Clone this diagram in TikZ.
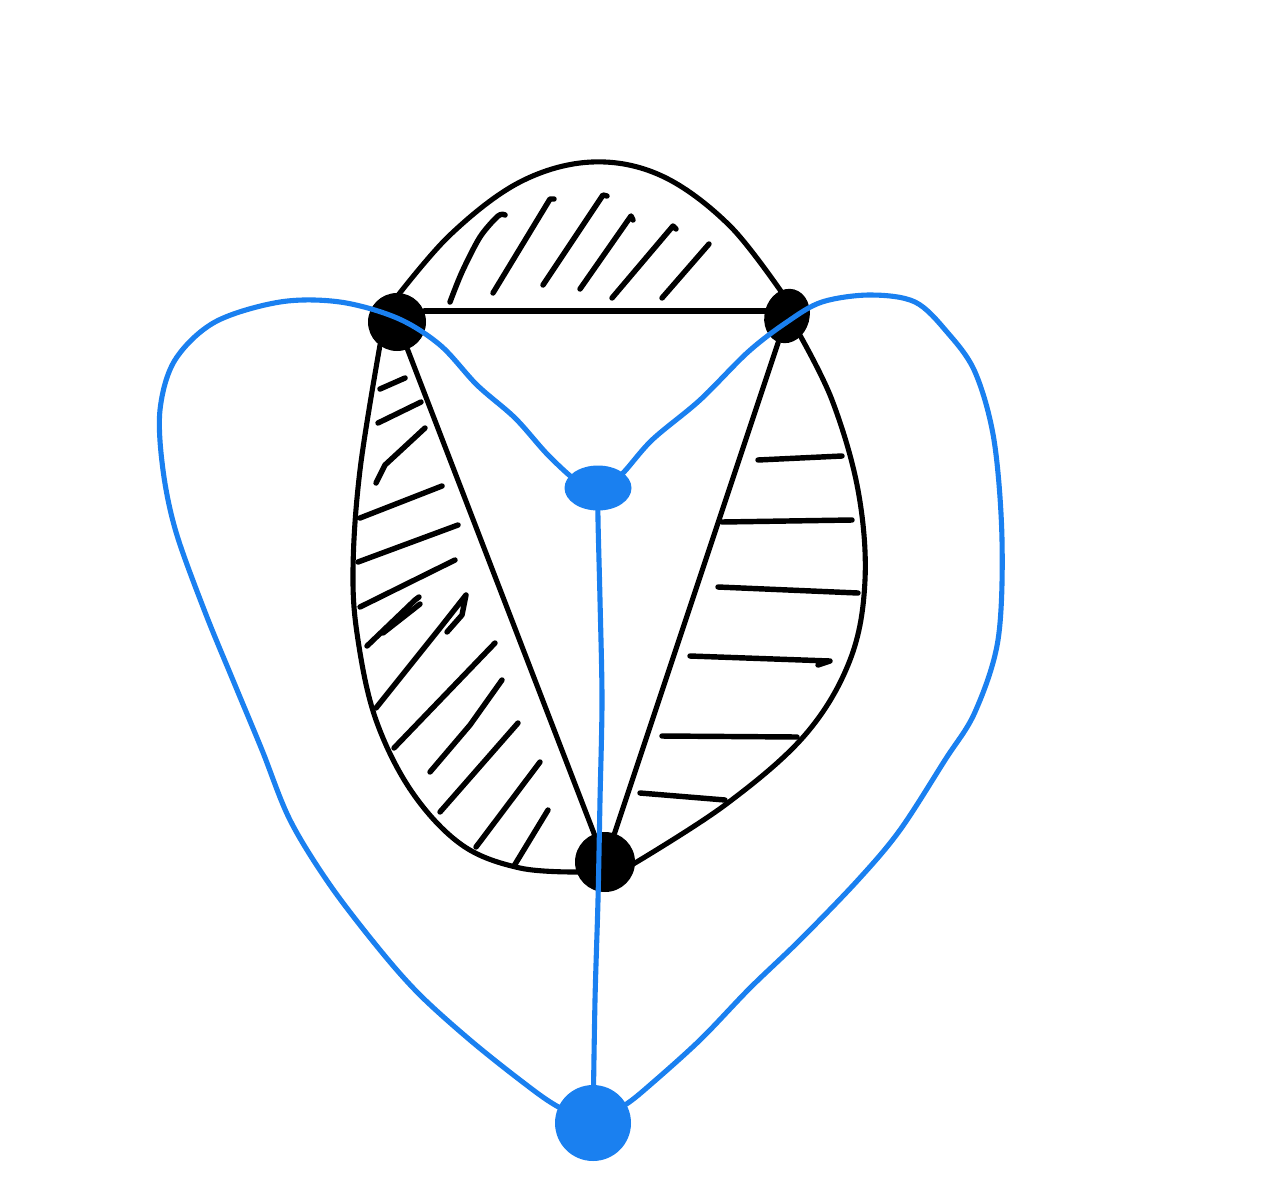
\documentclass[tikz,border=0pt]{standalone}
\usetikzlibrary{shapes.geometric}
\definecolor{pen}{RGB}{26,128,240}
\tikzset{
  blk/.style={line width=2.9pt, black, line cap=round, line join=round},
  hatch/.style={line width=3.1pt, black, line cap=round, line join=round},
  blu/.style={line width=2.9pt, pen, line cap=round, line join=round},
  bdot/.style={circle, fill=black, inner sep=0pt},
  udot/.style={fill=pen, inner sep=0pt},
}
\begin{document}
\begin{tikzpicture}[x={(0.02cm,0)}, y={(0,-0.02cm)}]
\useasboundingbox (0,0) rectangle (1280,1190);
\fill[white] (0,0) rectangle (1280,1190);
% nodes
\node[bdot, minimum size=1.16cm] (A) at (397,322) {};
\node[bdot, ellipse, minimum width=0.9cm, minimum height=1.1cm, rotate=-15] (B) at (787,316) {};
\node[bdot, minimum size=1.2cm] (C) at (605,862) {};
\node[udot, ellipse, minimum width=1.34cm, minimum height=0.9cm] (D) at (598,488) {};
\node[udot, circle, minimum size=1.52cm] (E) at (593,1123) {};
% outer boundary
\draw[blk] plot[smooth, tension=0.6] coordinates {(392,303) (450,235) (520,182) (592,162) (662,176) (730,226) (787,300)};
\draw[blk] plot[smooth, tension=0.6] coordinates {(797,330) (832,400) (858,490) (865,580) (850,660) (805,735) (725,805) (630,866)};
\draw[blk] plot[smooth, tension=0.6] coordinates {(580,872) (520,868) (462,845) (412,792) (376,720) (358,640) (353,570) (360,470) (380,345)};
% triangle
\draw[blk] (A.22) -- (B.center |- A.22);
\draw[blk] (A) -- (C);
\draw[blk] (B) -- (C);
% top hatches
\draw[hatch] plot[smooth] coordinates {(450,302) (462,272) (480,237) (498,216) (505,215)};
\draw[hatch] (493,293) -- (550,199) -- (554,199);
\draw[hatch] (543,285) -- (603,195) -- (607,196);
\draw[hatch] (580,289) -- (631,216) -- (633,220);
\draw[hatch] (612,298) -- (673,226) -- (676,229);
\draw[hatch] (662,298) -- (709,244);
% left hatches
\draw[hatch] (380,389) -- (405,378);
\draw[hatch] (378,423) -- (421,402);
\draw[hatch] (376,483) -- (385,465) -- (425,428);
\draw[hatch] (360,518) -- (442,486);
\draw[hatch] (358,562) -- (458,525);
\draw[hatch] (360,607) -- (455,560);
\draw[hatch] (367,646) -- (415,600) -- (419,597);
\draw[hatch] (383,633) -- (420,604);
\draw[hatch] (376,708) -- (440,628) -- (466,595) -- (462,615) -- (447,632);
\draw[hatch] (394,748) -- (495,643);
\draw[hatch] (430,772) -- (470,725) -- (502,680);
\draw[hatch] (440,812) -- (518,723);
\draw[hatch] (476,847) -- (540,762);
\draw[hatch] (514,866) -- (548,810);
% right hatches
\draw[hatch] (758,460) -- (842,456);
\draw[hatch] (722,522) -- (852,520);
\draw[hatch] (718,587) -- (858,593);
\draw[hatch] (690,656) -- (830,661) -- (818,665);
\draw[hatch] (662,736) -- (797,737);
\draw[hatch] (640,793) -- (725,800);
% blue curves
\draw[blu] plot[smooth, tension=0.55] coordinates {(E) (555,1105) (520,1080) (470,1040) (420,995) (380,950) (330,885) (290,820) (262,750) (235,685) (205,612) (176,532) (163,470) (160,410) (175,360) (215,322) (280,302) (340,302) (397,318) (440,345) (477,385) (515,418) (548,455) (578,482) (D)};
\draw[blu] plot[smooth, tension=0.55] coordinates {(D) (620,476) (652,440) (700,400) (748,352) (787,322) (822,302) (870,295) (915,302) (947,332) (975,372) (994,440) (1002,540) (998,640) (975,712) (945,760) (900,830) (858,880) (800,940) (750,988) (700,1040) (650,1085) (625,1105) (E)};
\draw[blu] plot[smooth, tension=0.5] coordinates {(D) (598,520) (600,600) (602,700) (600,800) (598,900) (595,1000) (E)};
\end{tikzpicture}
\end{document}
